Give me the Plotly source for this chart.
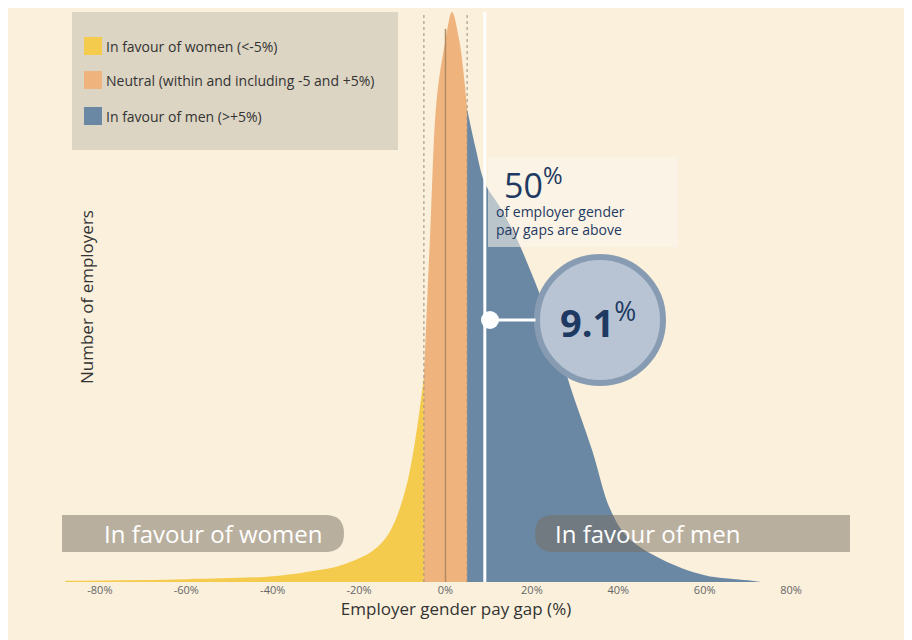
import plotly.graph_objects as go

# Density of employer gender pay gaps (relative to peak)
gap_pct = [-88, -60, -40, -30, -24, -17, -13, -9, -5,
           -3.5, -2, 0, 1.5, 3.2, 5,
           7, 9.1, 12.4, 16, 20, 25, 29, 34, 38, 42, 50, 60, 70, 73]
density = [0.002, 0.005, 0.01, 0.02, 0.03, 0.054, 0.087, 0.17, 0.36,
           0.62, 0.85, 0.95, 1.0, 0.95, 0.83,
           0.76, 0.70, 0.66, 0.61, 0.54, 0.44, 0.34, 0.23, 0.13, 0.08, 0.04, 0.012, 0.003, 0.0]
tick_vals = [-80, -60, -40, -20, 0, 20, 40, 60, 80]
tick_text = ["-80%", "-60%", "-40%", "-20%", "0%", "20%", "40%", "60%", "80%"]
median_gap = 9.1

YELLOW, ORANGE, BLUE = "#F5CB4E", "#EFB47E", "#6A87A3"
BG = "#FAF0DC"

def px2x(p):
    return (p - 445.5) / 4.32

def py2y(p):
    return (582 - p) / 570.0

fig = go.Figure()

segments = [
    (lambda v: v <= -5, YELLOW),
    (lambda v: -5 <= v <= 5, ORANGE),
    (lambda v: v >= 5, BLUE),
]
for cond, col in segments:
    xs = [x for x in gap_pct if cond(x)]
    ys = [d for x, d in zip(gap_pct, density) if cond(x)]
    fig.add_trace(go.Scatter(x=xs, y=ys, mode="lines", line=dict(width=0, shape="spline"),
                             fill="tozeroy", fillcolor=col, hoverinfo="skip", showlegend=False))

shapes = []
# dotted boundaries and zero line
for v in (-5, 5):
    shapes.append(dict(type="line", x0=v, x1=v, y0=0, y1=1.0, line=dict(color="#9A8C7E", width=1, dash="dot")))
shapes.append(dict(type="line", x0=0, x1=0, y0=0, y1=0.97, line=dict(color="#B58A62", width=1.5)))
# median line
shapes.append(dict(type="line", x0=median_gap, x1=median_gap, y0=0, y1=1.0, line=dict(color="white", width=3)))
# legend box
shapes.append(dict(type="rect", x0=px2x(72), x1=px2x(398), y0=py2y(150), y1=py2y(12),
                   fillcolor="#DDD5C3", line_width=0, layer="below"))
for top, col in [(37, YELLOW), (71, ORANGE), (107, BLUE)]:
    shapes.append(dict(type="rect", x0=px2x(84), x1=px2x(102), y0=py2y(top + 18), y1=py2y(top),
                       fillcolor=col, line_width=0))
# annotation box (translucent)
shapes.append(dict(type="rect", x0=px2x(488), x1=px2x(678), y0=py2y(247), y1=py2y(157),
                   fillcolor="rgba(252,246,236,0.55)", line_width=0))
# banners
def pill(x0p, x1p, y0p, y1p, round_left, round_right):
    r = (y1p - y0p) / 2
    x0, x1 = px2x(x0p), px2x(x1p)
    xl, xr = px2x(x0p + r), px2x(x1p - r)
    yt, yb, ym = py2y(y0p), py2y(y1p), py2y(y0p + r)
    p = f"M {xl if round_left else x0},{yt} L {xr if round_right else x1},{yt} "
    p += f"Q {x1},{yt} {x1},{ym} Q {x1},{yb} {xr},{yb} " if round_right else f"L {x1},{yb} "
    p += f"L {xl if round_left else x0},{yb} "
    p += f"Q {x0},{yb} {x0},{ym} Q {x0},{yt} {xl},{yt} Z" if round_left else f"L {x0},{yt} Z"
    return p
shapes.append(dict(type="path", path=pill(60, 344, 515, 552, False, True),
                   fillcolor="rgba(120,110,95,0.5)", line_width=0))
shapes.append(dict(type="path", path=pill(535, 850, 515, 552, True, False),
                   fillcolor="rgba(120,110,95,0.5)", line_width=0))
# circle
shapes.append(dict(type="circle", x0=px2x(537), x1=px2x(663), y0=py2y(383), y1=py2y(257),
                   fillcolor="#B8C4D3", line=dict(color="#879CB3", width=6)))
fig.update_layout(shapes=shapes)

annots = [
    dict(x=px2x(104), y=py2y(46), text="In favour of women (<-5%)"),
    dict(x=px2x(104), y=py2y(80), text="Neutral (within and including -5 and +5%)"),
    dict(x=px2x(104), y=py2y(116), text="In favour of men (>+5%)"),
]
for a in annots:
    fig.add_annotation(x=a["x"], y=a["y"], text=a["text"], showarrow=False, xanchor="left",
                       font=dict(size=14, color="#333333", family="Open Sans"))
fig.add_annotation(x=px2x(502), y=py2y(183), text="50<sup>%</sup>", showarrow=False, xanchor="left",
                   font=dict(size=34, color="#1E3A63", family="Open Sans"))
fig.add_annotation(x=px2x(494), y=py2y(220), text="of employer gender<br>pay gaps are above", showarrow=False,
                   xanchor="left", align="left", font=dict(size=14, color="#1E3A63", family="Open Sans"))
fig.add_annotation(x=px2x(598), y=py2y(320), text="<b>9.1</b><sup>%</sup>", showarrow=False,
                   font=dict(size=38, color="#1E3A63", family="Open Sans"))
fig.add_annotation(x=px2x(490), y=py2y(320), ax=px2x(537), ay=py2y(320), axref="x", ayref="y",
                   text="", showarrow=True, arrowhead=6, arrowsize=1.5, arrowwidth=3, arrowcolor="white")
fig.add_annotation(x=px2x(213), y=py2y(533), text="In favour of women", showarrow=False,
                   font=dict(size=24, color="white", family="Open Sans"))
fig.add_annotation(x=px2x(647), y=py2y(533), text="In favour of men", showarrow=False,
                   font=dict(size=24, color="white", family="Open Sans"))
fig.add_annotation(x=px2x(86), y=0.5, yref="paper", text="Number of employers", textangle=-90,
                   showarrow=False, font=dict(size=17, color="#333333"))

fig.update_layout(
    width=912, height=640,
    margin=dict(l=54, r=70, t=4, b=66),
    paper_bgcolor=BG, plot_bgcolor=BG,
    showlegend=False,
    font=dict(family="Open Sans", color="#333333"),
    xaxis=dict(range=[px2x(62), px2x(850)], tickvals=tick_vals, ticktext=tick_text,
               showgrid=False, zeroline=False, ticks="", tickfont=dict(size=11, color="#666666"),
               title=dict(text="Employer gender pay gap (%)", font=dict(size=17, color="#333333"), standoff=4)),
    yaxis=dict(range=[0, 1.0], showticklabels=False, showgrid=False, zeroline=False),
)

fig.write_html("out.html")
